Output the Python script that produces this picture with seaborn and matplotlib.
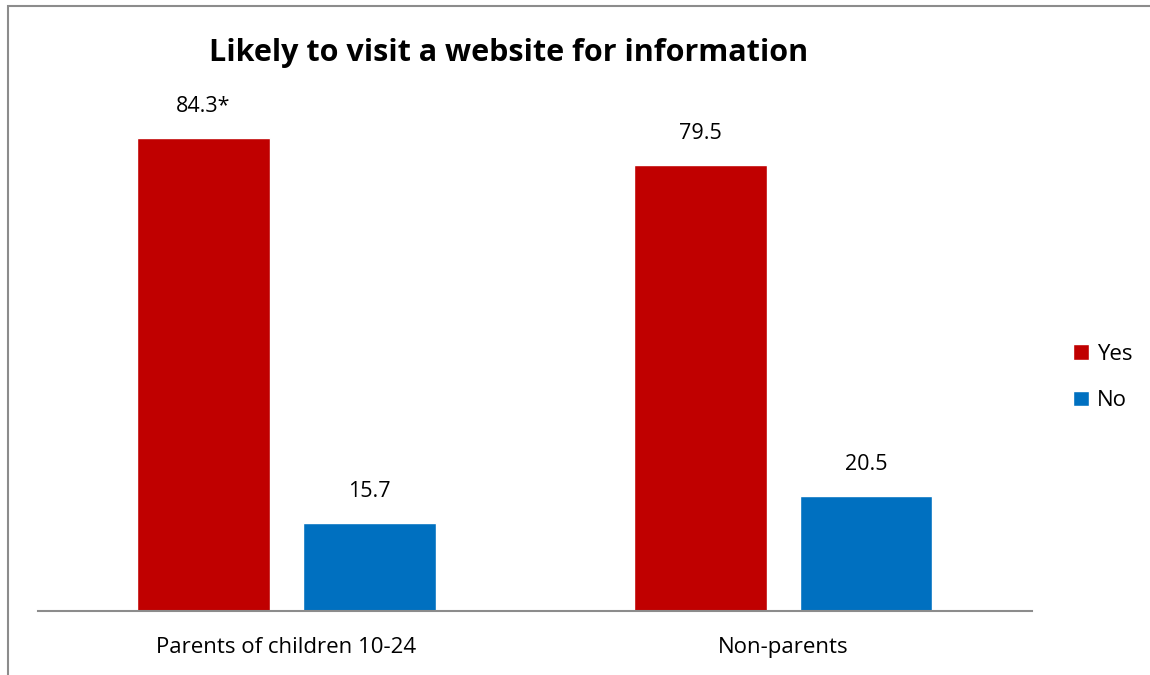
import matplotlib.pyplot as plt
import pandas as pd
import seaborn as sns
from matplotlib.patches import Rectangle

groups = ["Parents of children 10-24", "Non-parents"]
answers = ["Yes", "No"]
yes_values = [84.3, 79.5]
no_values = [15.7, 20.5]
value_labels = [["84.3*", "79.5"], ["15.7", "20.5"]]
colors = {"Yes": "#C00000", "No": "#0070C0"}

rows = []
for i, group in enumerate(groups):
    rows.append({"group": group, "answer": "Yes", "value": yes_values[i]})
    rows.append({"group": group, "answer": "No", "value": no_values[i]})
frame = pd.DataFrame(rows)

sns.set_style("white")
plt.rcParams["font.family"] = ["Open Sans", "DejaVu Sans"]
plt.rcParams["text.color"] = "black"
plt.rcParams["xtick.color"] = "black"

fig = plt.figure(figsize=(11.5, 6.75), dpi=100)
ax = fig.add_axes([0.033, 0.0948, 0.864, 0.832])

sns.barplot(data=frame, x="group", y="value", hue="answer", hue_order=answers,
            palette=colors, width=0.668, gap=0.2, saturation=1, ax=ax)

for container, labels in zip(ax.containers, value_labels):
    ax.bar_label(container, labels=labels, padding=15, fontsize=15.5, color="black")

ax.set_ylim(0, 100)
ax.set_xlim(-0.5, 1.5)
ax.set_xlabel("")
ax.set_ylabel("")
ax.set_yticks([])
ax.tick_params(axis="x", length=0, labelsize=16, labelcolor="black", pad=19)
for side in ("top", "right", "left"):
    ax.spines[side].set_visible(False)
ax.spines["bottom"].set_color("#8c8c8c")
ax.spines["bottom"].set_linewidth(1.5)

ax.legend(loc="center left", bbox_to_anchor=(1.022, 0.416), frameon=False,
          fontsize=16, handlelength=0.7, handleheight=0.7, labelspacing=1.15,
          handletextpad=0.35)

fig.text(0.442, 0.921, "Likely to visit a website for information",
         ha="center", va="center", fontsize=22, fontweight="bold", color="black")

# outer frame (left and top edges of the chart box)
fig.add_artist(Rectangle((8 / 1150, -0.05), 1.2, (675 - 6) / 675 + 0.05,
                         transform=fig.transFigure, fill=False,
                         edgecolor="#8c8c8c", linewidth=1.5))

fig.savefig("out.png", dpi=100)
